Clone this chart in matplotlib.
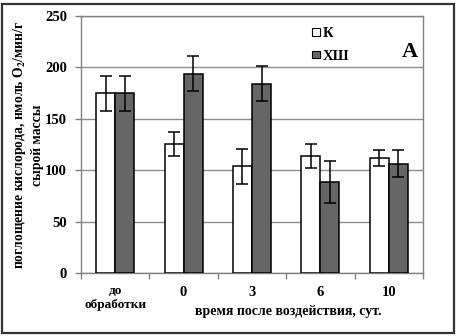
import matplotlib
matplotlib.use("Agg")
import matplotlib.pyplot as plt
from matplotlib.patches import Rectangle, Patch
import numpy as np

categories = ["до\nобработки", "0", "3", "6", "10"]
k_values = [175, 125.5, 104, 114, 112]
k_errors = [17, 12, 17, 11.5, 8]
xsh_values = [175, 194, 184, 88.5, 106.5]
xsh_errors = [17, 17, 17, 20, 13]
series_names = ["К", "ХШ"]
yticks = [0, 50, 100, 150, 200, 250]

plt.rcParams['font.family'] = ['Liberation Serif', 'DejaVu Serif']
plt.rcParams['font.weight'] = 'bold'
plt.rcParams['mathtext.fontset'] = 'stix'

W, H = 457, 336
fig = plt.figure(figsize=(W/100, H/100), dpi=100)
ax = fig.add_axes([81/W, 1-273/H, (423-81)/W, (273-16)/H])

x = np.arange(len(categories))
bw = 0.278
ekw = dict(elinewidth=1.1, capthick=1.1, ecolor='black')
ax.bar(x - bw/2, k_values, bw, color='white', edgecolor='black', linewidth=1.1,
       yerr=k_errors, capsize=4.5, error_kw=ekw, label=series_names[0], zorder=3)
ax.bar(x + bw/2, xsh_values, bw, color='#666666', edgecolor='black', linewidth=1.1,
       yerr=xsh_errors, capsize=4.5, error_kw=ekw, label=series_names[1], zorder=3)

ax.set_xlim(-0.5, len(categories)-0.5)
ax.set_ylim(0, 250)
ax.set_yticks(yticks)
ax.yaxis.grid(True, color='#8c8c8c', linewidth=1.0, zorder=0)
ax.set_axisbelow(True)
for s in ['top', 'right', 'left', 'bottom']:
    ax.spines[s].set_color('#808080')
    ax.spines[s].set_linewidth(1.0)
ax.tick_params(axis='y', direction='out', length=4, width=1, color='#808080',
               pad=6, labelsize=10.5)
ax.set_xticks(x)
ax.set_xticklabels(categories)
ax.set_xticks(np.arange(-0.5, len(categories), 1.0), minor=True)
ax.tick_params(axis='x', which='major', length=0, pad=9, labelsize=10.5)
ax.tick_params(axis='x', which='minor', direction='out', length=4, width=1, color='#808080')
for lab in ax.get_xticklabels():
    lab.set_fontweight('bold')
    if '\n' in lab.get_text():
        lab.set_fontsize(9.5)
        lab.set_linespacing(1.2)
for lab in ax.get_yticklabels():
    lab.set_fontweight('bold')

fig.text(288/W, 1-312/H, "время после воздействия, сут.", ha='center', va='center',
         fontsize=10, fontweight='bold')
fig.text(28/W, 1-145/H, "поглощение кислорода, нмоль O$_2$/мин/г\nсырой массы",
         rotation=90, ha='center', va='center', multialignment='center',
         fontsize=9.8, fontweight='bold', linespacing=1.3)
fig.text(410/W, 1-57/H, "A", ha='center', va='baseline', fontsize=16, fontweight='bold')

handles = [Patch(facecolor='white', edgecolor='black', linewidth=0.8),
           Patch(facecolor='#666666', edgecolor='black', linewidth=0.8)]
fig.legend(handles, series_names, loc='upper left', bbox_to_anchor=(305/W, 1-20/H),
           frameon=False, borderpad=0, handlelength=0.55, handleheight=0.4,
           handletextpad=0.15, labelspacing=0.65, prop={'size': 10.5, 'weight': 'bold'})

fig.add_artist(Rectangle((2/W, 3/H), 452/W, 329/H, fill=False, linewidth=1.6,
                         edgecolor='#333333', transform=fig.transFigure))

fig.savefig("out.png", dpi=100)
